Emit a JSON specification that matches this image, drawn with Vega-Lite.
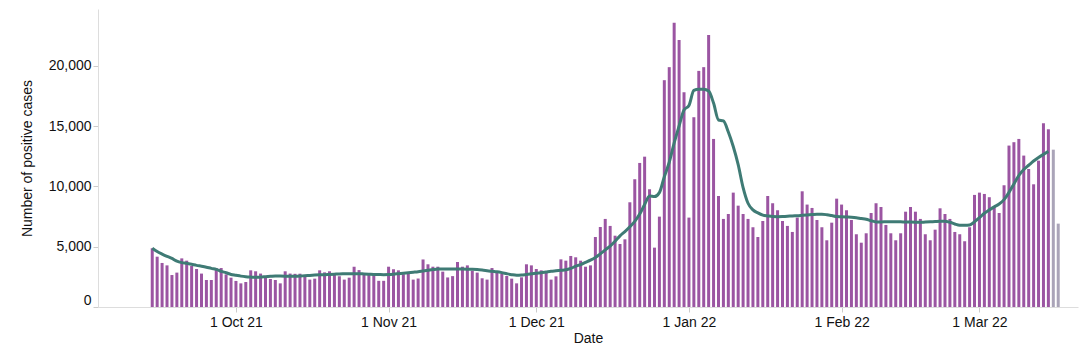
{
  "$schema": "https://vega.github.io/schema/vega-lite/v6.json",
  "width": 980,
  "height": 298,
  "autosize": {"type": "none"},
  "padding": {"left": 98, "top": 9, "right": 2, "bottom": 51},
  "background": "#ffffff",
  "config": {
    "view": {"stroke": null},
    "font": "Liberation Sans",
    "axis": {
      "grid": false,
      "labelFontSize": 14,
      "titleFontSize": 14,
      "titleFontWeight": "normal",
      "labelColor": "#111111",
      "titleColor": "#111111",
      "domainColor": "#dddddd",
      "tickColor": "#cccccc",
      "tickSize": 5
    }
  },
  "datasets": {
    "bars": [
      {"date":"2021-09-14","cases":4870,"status":"complete"},
      {"date":"2021-09-15","cases":4170,"status":"complete"},
      {"date":"2021-09-16","cases":3650,"status":"complete"},
      {"date":"2021-09-17","cases":3450,"status":"complete"},
      {"date":"2021-09-18","cases":2650,"status":"complete"},
      {"date":"2021-09-19","cases":2850,"status":"complete"},
      {"date":"2021-09-20","cases":4030,"status":"complete"},
      {"date":"2021-09-21","cases":3840,"status":"complete"},
      {"date":"2021-09-22","cases":3400,"status":"complete"},
      {"date":"2021-09-23","cases":3150,"status":"complete"},
      {"date":"2021-09-24","cases":2770,"status":"complete"},
      {"date":"2021-09-25","cases":2240,"status":"complete"},
      {"date":"2021-09-26","cases":2240,"status":"complete"},
      {"date":"2021-09-27","cases":3230,"status":"complete"},
      {"date":"2021-09-28","cases":3230,"status":"complete"},
      {"date":"2021-09-29","cases":2700,"status":"complete"},
      {"date":"2021-09-30","cases":2430,"status":"complete"},
      {"date":"2021-10-01","cases":2160,"status":"complete"},
      {"date":"2021-10-02","cases":1960,"status":"complete"},
      {"date":"2021-10-03","cases":2070,"status":"complete"},
      {"date":"2021-10-04","cases":3040,"status":"complete"},
      {"date":"2021-10-05","cases":2960,"status":"complete"},
      {"date":"2021-10-06","cases":2770,"status":"complete"},
      {"date":"2021-10-07","cases":2540,"status":"complete"},
      {"date":"2021-10-08","cases":2320,"status":"complete"},
      {"date":"2021-10-09","cases":2240,"status":"complete"},
      {"date":"2021-10-10","cases":1960,"status":"complete"},
      {"date":"2021-10-11","cases":2960,"status":"complete"},
      {"date":"2021-10-12","cases":2770,"status":"complete"},
      {"date":"2021-10-13","cases":2750,"status":"complete"},
      {"date":"2021-10-14","cases":2760,"status":"complete"},
      {"date":"2021-10-15","cases":2530,"status":"complete"},
      {"date":"2021-10-16","cases":2270,"status":"complete"},
      {"date":"2021-10-17","cases":2350,"status":"complete"},
      {"date":"2021-10-18","cases":3040,"status":"complete"},
      {"date":"2021-10-19","cases":2870,"status":"complete"},
      {"date":"2021-10-20","cases":2960,"status":"complete"},
      {"date":"2021-10-21","cases":2670,"status":"complete"},
      {"date":"2021-10-22","cases":2550,"status":"complete"},
      {"date":"2021-10-23","cases":2270,"status":"complete"},
      {"date":"2021-10-24","cases":2430,"status":"complete"},
      {"date":"2021-10-25","cases":3340,"status":"complete"},
      {"date":"2021-10-26","cases":3060,"status":"complete"},
      {"date":"2021-10-27","cases":2770,"status":"complete"},
      {"date":"2021-10-28","cases":2670,"status":"complete"},
      {"date":"2021-10-29","cases":2750,"status":"complete"},
      {"date":"2021-10-30","cases":2170,"status":"complete"},
      {"date":"2021-10-31","cases":2170,"status":"complete"},
      {"date":"2021-11-01","cases":3340,"status":"complete"},
      {"date":"2021-11-02","cases":3130,"status":"complete"},
      {"date":"2021-11-03","cases":3040,"status":"complete"},
      {"date":"2021-11-04","cases":2720,"status":"complete"},
      {"date":"2021-11-05","cases":2760,"status":"complete"},
      {"date":"2021-11-06","cases":2270,"status":"complete"},
      {"date":"2021-11-07","cases":2360,"status":"complete"},
      {"date":"2021-11-08","cases":3940,"status":"complete"},
      {"date":"2021-11-09","cases":3540,"status":"complete"},
      {"date":"2021-11-10","cases":3340,"status":"complete"},
      {"date":"2021-11-11","cases":3340,"status":"complete"},
      {"date":"2021-11-12","cases":2930,"status":"complete"},
      {"date":"2021-11-13","cases":2450,"status":"complete"},
      {"date":"2021-11-14","cases":2560,"status":"complete"},
      {"date":"2021-11-15","cases":3730,"status":"complete"},
      {"date":"2021-11-16","cases":3340,"status":"complete"},
      {"date":"2021-11-17","cases":3450,"status":"complete"},
      {"date":"2021-11-18","cases":3010,"status":"complete"},
      {"date":"2021-11-19","cases":2850,"status":"complete"},
      {"date":"2021-11-20","cases":2380,"status":"complete"},
      {"date":"2021-11-21","cases":2270,"status":"complete"},
      {"date":"2021-11-22","cases":3230,"status":"complete"},
      {"date":"2021-11-23","cases":2850,"status":"complete"},
      {"date":"2021-11-24","cases":2770,"status":"complete"},
      {"date":"2021-11-25","cases":2570,"status":"complete"},
      {"date":"2021-11-26","cases":2350,"status":"complete"},
      {"date":"2021-11-27","cases":1960,"status":"complete"},
      {"date":"2021-11-28","cases":2460,"status":"complete"},
      {"date":"2021-11-29","cases":3540,"status":"complete"},
      {"date":"2021-11-30","cases":3450,"status":"complete"},
      {"date":"2021-12-01","cases":3150,"status":"complete"},
      {"date":"2021-12-02","cases":3040,"status":"complete"},
      {"date":"2021-12-03","cases":2850,"status":"complete"},
      {"date":"2021-12-04","cases":2270,"status":"complete"},
      {"date":"2021-12-05","cases":2540,"status":"complete"},
      {"date":"2021-12-06","cases":3950,"status":"complete"},
      {"date":"2021-12-07","cases":3840,"status":"complete"},
      {"date":"2021-12-08","cases":4230,"status":"complete"},
      {"date":"2021-12-09","cases":4120,"status":"complete"},
      {"date":"2021-12-10","cases":3840,"status":"complete"},
      {"date":"2021-12-11","cases":3340,"status":"complete"},
      {"date":"2021-12-12","cases":3450,"status":"complete"},
      {"date":"2021-12-13","cases":5800,"status":"complete"},
      {"date":"2021-12-14","cases":6630,"status":"complete"},
      {"date":"2021-12-15","cases":7300,"status":"complete"},
      {"date":"2021-12-16","cases":6720,"status":"complete"},
      {"date":"2021-12-17","cases":5910,"status":"complete"},
      {"date":"2021-12-18","cases":5220,"status":"complete"},
      {"date":"2021-12-19","cases":5610,"status":"complete"},
      {"date":"2021-12-20","cases":8680,"status":"complete"},
      {"date":"2021-12-21","cases":10590,"status":"complete"},
      {"date":"2021-12-22","cases":11940,"status":"complete"},
      {"date":"2021-12-23","cases":12460,"status":"complete"},
      {"date":"2021-12-24","cases":9760,"status":"complete"},
      {"date":"2021-12-25","cases":4920,"status":"complete"},
      {"date":"2021-12-26","cases":7490,"status":"complete"},
      {"date":"2021-12-27","cases":18800,"status":"complete"},
      {"date":"2021-12-28","cases":19880,"status":"complete"},
      {"date":"2021-12-29","cases":23550,"status":"complete"},
      {"date":"2021-12-30","cases":22140,"status":"complete"},
      {"date":"2021-12-31","cases":17800,"status":"complete"},
      {"date":"2022-01-01","cases":7410,"status":"complete"},
      {"date":"2022-01-02","cases":15730,"status":"complete"},
      {"date":"2022-01-03","cases":19570,"status":"complete"},
      {"date":"2022-01-04","cases":19880,"status":"complete"},
      {"date":"2022-01-05","cases":22550,"status":"complete"},
      {"date":"2022-01-06","cases":13930,"status":"complete"},
      {"date":"2022-01-07","cases":9200,"status":"complete"},
      {"date":"2022-01-08","cases":7300,"status":"complete"},
      {"date":"2022-01-09","cases":7710,"status":"complete"},
      {"date":"2022-01-10","cases":9480,"status":"complete"},
      {"date":"2022-01-11","cases":8400,"status":"complete"},
      {"date":"2022-01-12","cases":7710,"status":"complete"},
      {"date":"2022-01-13","cases":7300,"status":"complete"},
      {"date":"2022-01-14","cases":6610,"status":"complete"},
      {"date":"2022-01-15","cases":5800,"status":"complete"},
      {"date":"2022-01-16","cases":7130,"status":"complete"},
      {"date":"2022-01-17","cases":9200,"status":"complete"},
      {"date":"2022-01-18","cases":8600,"status":"complete"},
      {"date":"2022-01-19","cases":8020,"status":"complete"},
      {"date":"2022-01-20","cases":7130,"status":"complete"},
      {"date":"2022-01-21","cases":6720,"status":"complete"},
      {"date":"2022-01-22","cases":6220,"status":"complete"},
      {"date":"2022-01-23","cases":7410,"status":"complete"},
      {"date":"2022-01-24","cases":9590,"status":"complete"},
      {"date":"2022-01-25","cases":8490,"status":"complete"},
      {"date":"2022-01-26","cases":8210,"status":"complete"},
      {"date":"2022-01-27","cases":7210,"status":"complete"},
      {"date":"2022-01-28","cases":6610,"status":"complete"},
      {"date":"2022-01-29","cases":5530,"status":"complete"},
      {"date":"2022-01-30","cases":6990,"status":"complete"},
      {"date":"2022-01-31","cases":8980,"status":"complete"},
      {"date":"2022-02-01","cases":8490,"status":"complete"},
      {"date":"2022-02-02","cases":8020,"status":"complete"},
      {"date":"2022-02-03","cases":7210,"status":"complete"},
      {"date":"2022-02-04","cases":6030,"status":"complete"},
      {"date":"2022-02-05","cases":5330,"status":"complete"},
      {"date":"2022-02-06","cases":6110,"status":"complete"},
      {"date":"2022-02-07","cases":7790,"status":"complete"},
      {"date":"2022-02-08","cases":8600,"status":"complete"},
      {"date":"2022-02-09","cases":8290,"status":"complete"},
      {"date":"2022-02-10","cases":6800,"status":"complete"},
      {"date":"2022-02-11","cases":6110,"status":"complete"},
      {"date":"2022-02-12","cases":5530,"status":"complete"},
      {"date":"2022-02-13","cases":6110,"status":"complete"},
      {"date":"2022-02-14","cases":7900,"status":"complete"},
      {"date":"2022-02-15","cases":8290,"status":"complete"},
      {"date":"2022-02-16","cases":7900,"status":"complete"},
      {"date":"2022-02-17","cases":7300,"status":"complete"},
      {"date":"2022-02-18","cases":6030,"status":"complete"},
      {"date":"2022-02-19","cases":5530,"status":"complete"},
      {"date":"2022-02-20","cases":6410,"status":"complete"},
      {"date":"2022-02-21","cases":8180,"status":"complete"},
      {"date":"2022-02-22","cases":7710,"status":"complete"},
      {"date":"2022-02-23","cases":7300,"status":"complete"},
      {"date":"2022-02-24","cases":6220,"status":"complete"},
      {"date":"2022-02-25","cases":6030,"status":"complete"},
      {"date":"2022-02-26","cases":5450,"status":"complete"},
      {"date":"2022-02-27","cases":6610,"status":"complete"},
      {"date":"2022-02-28","cases":9290,"status":"complete"},
      {"date":"2022-03-01","cases":9480,"status":"complete"},
      {"date":"2022-03-02","cases":9370,"status":"complete"},
      {"date":"2022-03-03","cases":9100,"status":"complete"},
      {"date":"2022-03-04","cases":8290,"status":"complete"},
      {"date":"2022-03-05","cases":7790,"status":"complete"},
      {"date":"2022-03-06","cases":10090,"status":"complete"},
      {"date":"2022-03-07","cases":13380,"status":"complete"},
      {"date":"2022-03-08","cases":13660,"status":"complete"},
      {"date":"2022-03-09","cases":13930,"status":"complete"},
      {"date":"2022-03-10","cases":12550,"status":"complete"},
      {"date":"2022-03-11","cases":11440,"status":"complete"},
      {"date":"2022-03-12","cases":10170,"status":"complete"},
      {"date":"2022-03-13","cases":12130,"status":"complete"},
      {"date":"2022-03-14","cases":15230,"status":"complete"},
      {"date":"2022-03-15","cases":14730,"status":"complete"},
      {"date":"2022-03-16","cases":13040,"status":"incomplete"},
      {"date":"2022-03-17","cases":6910,"status":"incomplete"}
    ],
    "avg": [
      {"date":"2021-09-14","avg":4870},{"date":"2021-09-15","avg":4600},{"date":"2021-09-16","avg":4390},{"date":"2021-09-17","avg":4200},
      {"date":"2021-09-18","avg":4030},{"date":"2021-09-19","avg":3800},{"date":"2021-09-20","avg":3680},{"date":"2021-09-21","avg":3620},
      {"date":"2021-09-22","avg":3540},{"date":"2021-09-23","avg":3450},{"date":"2021-09-24","avg":3380},{"date":"2021-09-25","avg":3300},
      {"date":"2021-09-26","avg":3200},{"date":"2021-09-27","avg":3120},{"date":"2021-09-28","avg":2950},{"date":"2021-09-29","avg":2840},
      {"date":"2021-09-30","avg":2700},{"date":"2021-10-01","avg":2630},{"date":"2021-10-02","avg":2560},{"date":"2021-10-03","avg":2510},
      {"date":"2021-10-04","avg":2480},{"date":"2021-10-05","avg":2460},{"date":"2021-10-06","avg":2480},{"date":"2021-10-07","avg":2510},
      {"date":"2021-10-08","avg":2540},{"date":"2021-10-09","avg":2570},{"date":"2021-10-10","avg":2560},{"date":"2021-10-11","avg":2550},
      {"date":"2021-10-12","avg":2540},{"date":"2021-10-13","avg":2540},{"date":"2021-10-14","avg":2560},{"date":"2021-10-15","avg":2600},
      {"date":"2021-10-16","avg":2620},{"date":"2021-10-17","avg":2650},{"date":"2021-10-18","avg":2670},{"date":"2021-10-19","avg":2680},
      {"date":"2021-10-20","avg":2700},{"date":"2021-10-21","avg":2720},{"date":"2021-10-22","avg":2740},{"date":"2021-10-23","avg":2750},
      {"date":"2021-10-24","avg":2760},{"date":"2021-10-25","avg":2760},{"date":"2021-10-26","avg":2760},{"date":"2021-10-27","avg":2740},
      {"date":"2021-10-28","avg":2720},{"date":"2021-10-29","avg":2700},{"date":"2021-10-30","avg":2690},{"date":"2021-10-31","avg":2680},
      {"date":"2021-11-01","avg":2690},{"date":"2021-11-02","avg":2720},{"date":"2021-11-03","avg":2760},{"date":"2021-11-04","avg":2800},
      {"date":"2021-11-05","avg":2840},{"date":"2021-11-06","avg":2880},{"date":"2021-11-07","avg":2920},{"date":"2021-11-08","avg":2980},
      {"date":"2021-11-09","avg":3040},{"date":"2021-11-10","avg":3100},{"date":"2021-11-11","avg":3150},{"date":"2021-11-12","avg":3160},
      {"date":"2021-11-13","avg":3160},{"date":"2021-11-14","avg":3150},{"date":"2021-11-15","avg":3150},{"date":"2021-11-16","avg":3140},
      {"date":"2021-11-17","avg":3130},{"date":"2021-11-18","avg":3120},{"date":"2021-11-19","avg":3100},{"date":"2021-11-20","avg":3060},
      {"date":"2021-11-21","avg":3010},{"date":"2021-11-22","avg":2960},{"date":"2021-11-23","avg":2920},{"date":"2021-11-24","avg":2850},
      {"date":"2021-11-25","avg":2760},{"date":"2021-11-26","avg":2680},{"date":"2021-11-27","avg":2630},{"date":"2021-11-28","avg":2650},
      {"date":"2021-11-29","avg":2700},{"date":"2021-11-30","avg":2750},{"date":"2021-12-01","avg":2790},{"date":"2021-12-02","avg":2840},
      {"date":"2021-12-03","avg":2900},{"date":"2021-12-04","avg":2960},{"date":"2021-12-05","avg":3000},{"date":"2021-12-06","avg":3040},
      {"date":"2021-12-07","avg":3080},{"date":"2021-12-08","avg":3200},{"date":"2021-12-09","avg":3380},{"date":"2021-12-10","avg":3520},
      {"date":"2021-12-11","avg":3700},{"date":"2021-12-12","avg":3880},{"date":"2021-12-13","avg":4100},{"date":"2021-12-14","avg":4400},
      {"date":"2021-12-15","avg":4730},{"date":"2021-12-16","avg":5050},{"date":"2021-12-17","avg":5450},{"date":"2021-12-18","avg":5900},
      {"date":"2021-12-19","avg":6250},{"date":"2021-12-20","avg":6650},{"date":"2021-12-21","avg":7100},{"date":"2021-12-22","avg":7700},
      {"date":"2021-12-23","avg":8500},{"date":"2021-12-24","avg":9200},{"date":"2021-12-25","avg":9150},{"date":"2021-12-26","avg":9480},
      {"date":"2021-12-27","avg":10800},{"date":"2021-12-28","avg":12000},{"date":"2021-12-29","avg":13600},{"date":"2021-12-30","avg":15000},
      {"date":"2021-12-31","avg":16330},{"date":"2022-01-01","avg":16700},{"date":"2022-01-02","avg":17950},{"date":"2022-01-03","avg":18050},
      {"date":"2022-01-04","avg":18050},{"date":"2022-01-05","avg":17900},{"date":"2022-01-06","avg":16900},{"date":"2022-01-07","avg":15500},
      {"date":"2022-01-08","avg":15420},{"date":"2022-01-09","avg":14500},{"date":"2022-01-10","avg":13300},{"date":"2022-01-11","avg":11800},
      {"date":"2022-01-12","avg":9900},{"date":"2022-01-13","avg":8600},{"date":"2022-01-14","avg":8050},{"date":"2022-01-15","avg":7800},
      {"date":"2022-01-16","avg":7620},{"date":"2022-01-17","avg":7550},{"date":"2022-01-18","avg":7500},{"date":"2022-01-19","avg":7490},
      {"date":"2022-01-20","avg":7500},{"date":"2022-01-21","avg":7520},{"date":"2022-01-22","avg":7550},{"date":"2022-01-23","avg":7570},
      {"date":"2022-01-24","avg":7600},{"date":"2022-01-25","avg":7630},{"date":"2022-01-26","avg":7660},{"date":"2022-01-27","avg":7690},
      {"date":"2022-01-28","avg":7690},{"date":"2022-01-29","avg":7650},{"date":"2022-01-30","avg":7580},{"date":"2022-01-31","avg":7500},
      {"date":"2022-02-01","avg":7480},{"date":"2022-02-02","avg":7460},{"date":"2022-02-03","avg":7440},{"date":"2022-02-04","avg":7400},
      {"date":"2022-02-05","avg":7330},{"date":"2022-02-06","avg":7270},{"date":"2022-02-07","avg":7150},{"date":"2022-02-08","avg":7050},
      {"date":"2022-02-09","avg":7050},{"date":"2022-02-10","avg":7060},{"date":"2022-02-11","avg":7070},{"date":"2022-02-12","avg":7070},
      {"date":"2022-02-13","avg":7060},{"date":"2022-02-14","avg":7050},{"date":"2022-02-15","avg":7040},{"date":"2022-02-16","avg":7030},
      {"date":"2022-02-17","avg":7020},{"date":"2022-02-18","avg":7040},{"date":"2022-02-19","avg":7060},{"date":"2022-02-20","avg":7080},
      {"date":"2022-02-21","avg":7100},{"date":"2022-02-22","avg":7100},{"date":"2022-02-23","avg":7020},{"date":"2022-02-24","avg":6880},
      {"date":"2022-02-25","avg":6780},{"date":"2022-02-26","avg":6770},{"date":"2022-02-27","avg":6800},{"date":"2022-02-28","avg":7070},
      {"date":"2022-03-01","avg":7400},{"date":"2022-03-02","avg":7770},{"date":"2022-03-03","avg":8050},{"date":"2022-03-04","avg":8300},
      {"date":"2022-03-05","avg":8540},{"date":"2022-03-06","avg":8900},{"date":"2022-03-07","avg":9500},{"date":"2022-03-08","avg":10200},
      {"date":"2022-03-09","avg":10900},{"date":"2022-03-10","avg":11400},{"date":"2022-03-11","avg":11750},{"date":"2022-03-12","avg":12100},
      {"date":"2022-03-13","avg":12400},{"date":"2022-03-14","avg":12650},{"date":"2022-03-15","avg":12900}
    ]
  },
  "layer": [
    {
      "data": {"name": "bars"},
      "mark": {"type": "bar", "size": 3},
      "encoding": {
        "x": {
          "field": "date",
          "type": "temporal",
          "title": "Date",
          "scale": {
            "type": "utc",
            "domain": [
              {"year": 2021, "month": 9, "date": 4, "utc": true},
              {"year": 2022, "month": 3, "date": 20, "utc": true}
            ]
          },
          "axis": {
            "format": "%-d %b %y",
            "values": [
              {"year": 2021, "month": 10, "date": 1, "utc": true},
              {"year": 2021, "month": 11, "date": 1, "utc": true},
              {"year": 2021, "month": 12, "date": 1, "utc": true},
              {"year": 2022, "month": 1, "date": 1, "utc": true},
              {"year": 2022, "month": 2, "date": 1, "utc": true},
              {"year": 2022, "month": 3, "date": 1, "utc": true}
            ],
            "labelPadding": 3,
            "titlePadding": 2
          }
        },
        "y": {
          "field": "cases",
          "type": "quantitative",
          "title": "Number of positive cases",
          "scale": {"domain": [0, 24700], "nice": false},
          "axis": {
            "values": [0, 5000, 10000, 15000, 20000],
            "format": ",.0f",
            "labelFlush": true,
            "labelPadding": 2,
            "titlePadding": 14
          }
        },
        "color": {
          "field": "status",
          "type": "nominal",
          "scale": {"domain": ["complete", "incomplete"], "range": ["#9b55a2", "#aaa4b8"]},
          "legend": null
        }
      }
    },
    {
      "data": {"name": "avg"},
      "mark": {"type": "line", "strokeWidth": 3, "color": "#3f7b75", "interpolate": "monotone"},
      "encoding": {
        "x": {"field": "date", "type": "temporal"},
        "y": {"field": "avg", "type": "quantitative"}
      }
    }
  ]
}
